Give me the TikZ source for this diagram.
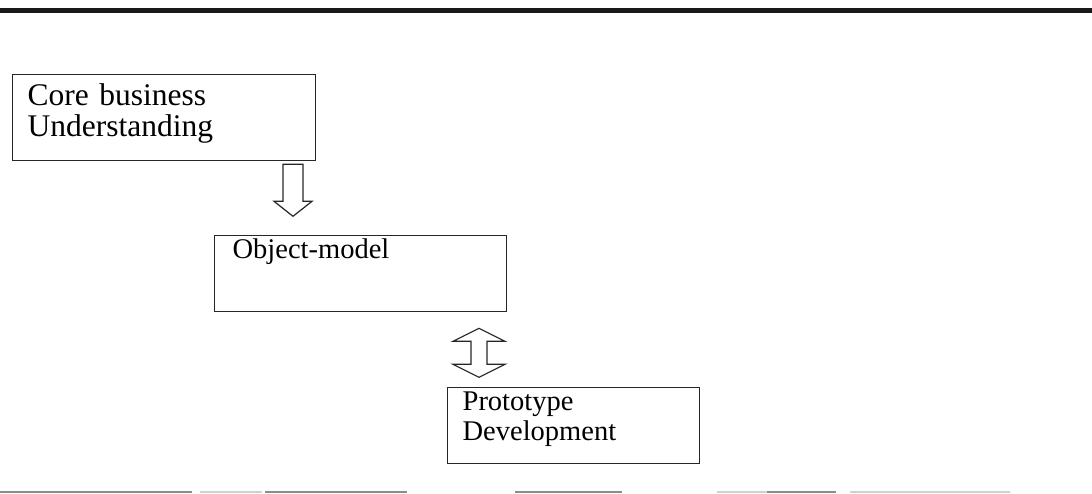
\documentclass[tikz,border=0pt]{standalone}
\usepackage{fontspec}
\setmainfont{Liberation Serif}
\usepackage{tikz}
\usetikzlibrary{positioning}
\definecolor{rulegray}{rgb}{0.55,0.55,0.55}

\begin{document}
\begin{tikzpicture}[
    x = 1pt, y = -1pt,
    every node/.style = {draw = black!85, line width = 1.3pt, anchor = north west,
      align = left, inner ysep = 0pt, font = \fontsize{28.5}{30}\selectfont},
      hollow/.style = {draw = black!85, line width = 1.2pt, line join = miter}
    ]
    \useasboundingbox (0,0) rectangle (1092,493);
    \draw[line width = 4.5pt, black!90] (0,10.5) -- (1092,10.5);
    \node (core) at (12,74) [inner xsep = 15pt, text width = 273pt,
        font = \fontsize{31.5}{31}\selectfont,
        text height = 31pt, text depth = 55pt] {Core business\\Understanding};
    \node (objmodel) at (214,235) [inner xsep = 18pt, text width = 256pt,
        text height = 23pt, text depth = 53pt] {Object-model};
    \node (proto) at (447,387) [inner xsep = 15pt, text width = 222pt,
        text height = 23pt, text depth = 53pt] {Prototype\\Development};
    % block arrows
    \draw[hollow] (core.south west) ++(271,3) -- ++(20,0) -- ++(0,37) -- ++(9,0)
        -- ++(-19,15) -- ++(-19,-15) -- ++(9,0) -- cycle;
    \draw[hollow] (objmodel.south west) ++(265,16) -- ++(26,13) -- ++(-18,0)
        -- ++(0,23) -- ++(18,0) -- ++(-26,13) -- ++(-26,-13) -- ++(18,0)
        -- ++(0,-23) -- ++(-18,0) -- cycle;
    % bottom rule
    \draw[rulegray, line width = 1.5pt] (0,492) -- (192,492) (265,492) -- (407,492)
        (515,492) -- (622,492) (767,492) -- (836,492);
    \draw[rulegray!40, line width = 1.5pt] (200,492) -- (262,492)
        (717,492) -- (767,492) (850,492) -- (1010,492);
\end{tikzpicture}
\end{document}
